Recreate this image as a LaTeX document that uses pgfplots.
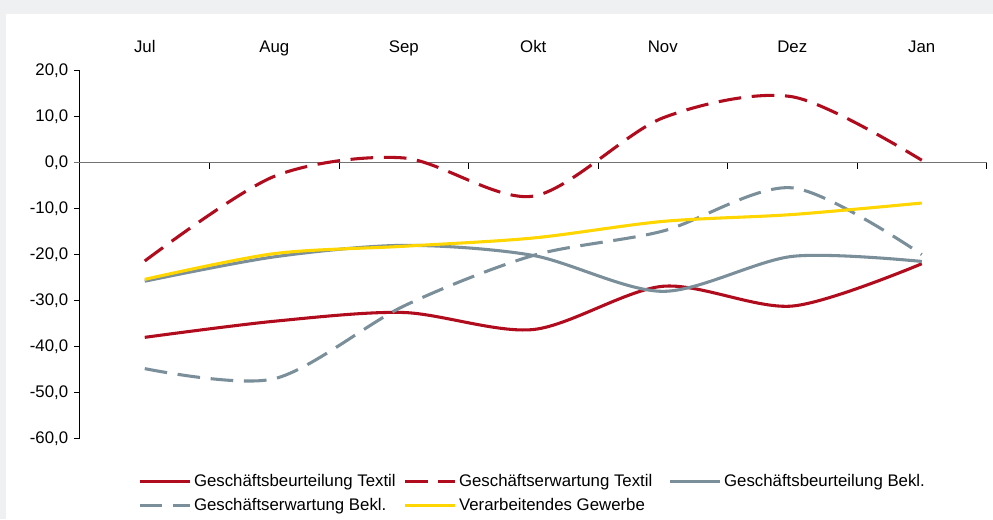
\documentclass[border=0pt]{standalone}
\usepackage{fontspec}
\setmainfont{Liberation Sans}
\usepackage{pgfplots}
\pgfplotsset{compat=1.18}
\definecolor{cRed}{RGB}{176,12,30}
\definecolor{cGrey}{RGB}{122,143,154}
\definecolor{cYel}{RGB}{255,214,0}
\definecolor{bgGrey}{RGB}{238,240,242}
\begin{document}
\fontsize{12.6}{15}\selectfont
\begin{tikzpicture}
\fill[bgGrey] (-60pt,-60.4pt) rectangle (684.75pt,328.9pt);
\fill[white] (-55.5pt,-60.4pt) rectangle (684.75pt,318.4pt);
\useasboundingbox (-60pt,-60.4pt) rectangle (684.75pt,328.9pt);
\begin{axis}[
  at={(0pt,0pt)}, anchor=south west,
  scale only axis, width=679.9pt, height=276pt,
  xmin=-0.5, xmax=6.5, ymin=-60, ymax=20,
  axis x line=top, axis y line=left,
  axis line style={-, black, line width=0.75pt},
  every outer x axis line/.append style={-},
  every outer y axis line/.append style={-},
  x axis line style={draw=none},
  xtick={0,...,6}, xticklabels={Jul,Aug,Sep,Okt,Nov,Dez,Jan},
  xtick style={draw=none},
  xticklabel style={anchor=base, yshift=11.6pt},
  ytick={-60,-50,...,20},
  ytick align=outside,
  ytick style={black, line width=0.75pt},
  major tick length=4.5pt,
  /pgf/number format/.cd, fixed, fixed zerofill, precision=1, use comma, assume math mode=true,
  /pgfplots/.cd,
  tick label style={font=\fontsize{12.6}{15}\selectfont},
  legend columns=3,
  legend cell align=left,
  legend style={draw=none, fill=none, inner sep=0pt, at={(0.064,-0.09)}, anchor=north west,
     font=\fontsize{12.6}{15}\selectfont, row sep=3pt},
  legend image code/.code={\draw[#1] (0pt,0pt) -- (37.5pt,0pt);},
  clip=false,
]
\draw[gray!90!black, line width=0.9pt] ([xshift=-4.5pt]axis cs:-0.5,0) -- (axis cs:6.5,0);
\pgfplotsinvokeforeach{0.5,1.5,2.5,3.5,4.5,5.5,6.5}{\draw[black, line width=0.75pt] (axis cs:#1,0) -- ([yshift=-4.5pt]axis cs:#1,0);}
\addplot[cRed, line width=2.3pt, smooth] coordinates {(0,-38.0) (1,-34.5) (2,-32.6) (3,-36.3) (4,-26.9) (5,-31.2) (6,-22.0)};
\addlegendentry{\makebox[155pt][l]{Geschäftsbeurteilung Textil}}
\addplot[cRed, line width=2.3pt, smooth, dash pattern=on 17pt off 8pt] coordinates {(0,-21.4) (1,-3.0) (2,1.0) (3,-7.3) (4,9.7) (5,14.3) (6,0.5)};
\addlegendentry{\makebox[155pt][l]{Geschäftserwartung Textil}}
\addplot[cGrey, line width=2.3pt, smooth] coordinates {(0,-25.8) (1,-20.5) (2,-18.0) (3,-20.2) (4,-28.0) (5,-20.4) (6,-21.5)};
\addlegendentry{\makebox[155pt][l]{Geschäftsbeurteilung Bekl.}}
\addplot[cGrey, line width=2.3pt, smooth, dash pattern=on 17pt off 8pt] coordinates {(0,-44.8) (1,-47.0) (2,-31.2) (3,-20.2) (4,-14.9) (5,-5.5) (6,-20.0)};
\addlegendentry{\makebox[155pt][l]{Geschäftserwartung Bekl.}}
\addplot[cYel, line width=2.3pt, smooth] coordinates {(0,-25.4) (1,-19.8) (2,-18.2) (3,-16.4) (4,-12.8) (5,-11.3) (6,-8.8)};
\addlegendentry{\makebox[155pt][l]{Verarbeitendes Gewerbe}}
\end{axis}
\end{tikzpicture}
\end{document}
